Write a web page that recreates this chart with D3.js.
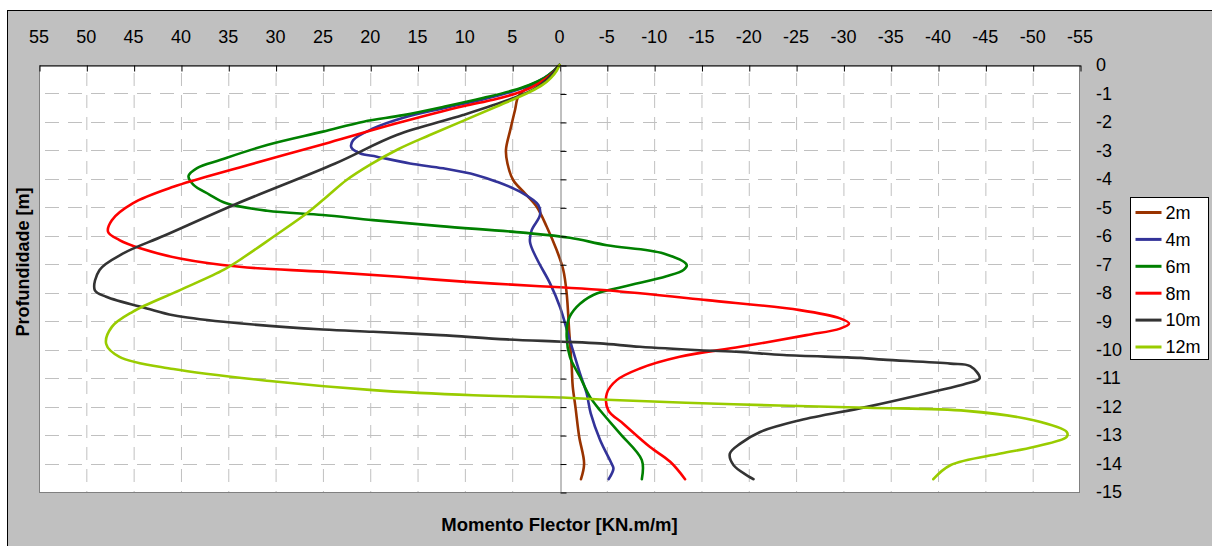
<!DOCTYPE html>
<html>
<head>
<meta charset="utf-8">
<script src="https://cdn.jsdelivr.net/npm/d3@7"></script>
<style>
  html, body { margin: 0; padding: 0; background: #fff; }
  svg { display: block; }
  text { font-family: "Liberation Sans", Arial, sans-serif; }
</style>
</head>
<body>
<svg id="chart" width="1212" height="546"></svg>
<script>
// ---- data (moment [kN.m/m], depth [m]) ----
const seriesNames = ["2m", "4m", "6m", "8m", "10m", "12m"];
const seriesColors = ["#993300", "#333399", "#008000", "#ff0000", "#333333", "#99cc00"];

const m2 = [[0,0],[0.8,-0.3],[2.2,-0.6],[3.6,-0.85],[4.36,-1.11],[4.7,-1.58],[5.2,-2.28],[5.66,-2.99],[5.5,-3.46],[4.9,-4.04],[3.65,-4.51],[2.41,-4.98],[1.35,-5.68],[0.3,-6.5],[-0.4,-7.2],[-0.75,-8.0],[-1.04,-9.43],[-1.29,-10.6],[-1.4,-11.3],[-1.68,-12.0],[-2.08,-13.06],[-2.6,-14.0],[-2.27,-14.55]];
const m4 = [[0,0],[0.6,-0.2],[1.6,-0.45],[3.2,-0.72],[5,-0.93],[8,-1.2],[12,-1.5],[16.5,-1.85],[19.7,-2.23],[21.8,-2.64],[22.0,-2.89],[21.1,-3.1],[19.3,-3.22],[15.8,-3.46],[12.3,-3.63],[8.75,-3.87],[6.64,-4.1],[4.18,-4.45],[2.24,-4.92],[2.06,-5.27],[2.94,-5.8],[3.12,-6.21],[2.41,-6.8],[1.0,-7.67],[-0.05,-8.5],[-1.1,-9.67],[-2.17,-10.84],[-2.87,-11.54],[-3.3,-12.24],[-4.3,-13.18],[-5.5,-14.0],[-5.7,-14.18],[-5.2,-14.55]];
const m6 = [[0,0],[0.6,-0.2],[1.6,-0.45],[3.2,-0.7],[5,-0.9],[8,-1.15],[12,-1.45],[16.5,-1.76],[20.7,-1.99],[25,-2.34],[30.9,-2.81],[35.8,-3.33],[38.3,-3.62],[39.2,-3.9],[38.7,-4.2],[37.0,-4.55],[35.2,-4.86],[30.9,-5.12],[25,-5.27],[19.7,-5.45],[12.6,-5.66],[3.83,-5.89],[-1.1,-6.07],[-5,-6.33],[-11,-6.62],[-13.45,-7.03],[-13.1,-7.2],[-11.3,-7.42],[-6.74,-7.79],[-3.57,-8.08],[-1.82,-8.5],[-0.93,-8.96],[-0.76,-9.55],[-1.1,-10.25],[-2.17,-10.96],[-3.22,-11.66],[-4.28,-12.13],[-6.4,-12.95],[-8.7,-13.88],[-8.7,-14.55]];
const m8 = [[0,0],[0.5,-0.2],[1.4,-0.47],[2.9,-0.78],[4.6,-1.0],[7,-1.22],[10.2,-1.45],[17.2,-2.05],[24.3,-2.72],[33.8,-3.6],[40.8,-4.28],[45.1,-4.86],[47.3,-5.45],[47.7,-5.86],[46.5,-6.15],[44.3,-6.44],[40.1,-6.8],[33.8,-7.09],[25,-7.26],[16.9,-7.44],[9.8,-7.62],[2.06,-7.77],[-0.05,-7.81],[-5,-7.91],[-15.6,-8.26],[-25.4,-8.61],[-29.65,-8.9],[-30.6,-9.08],[-29.65,-9.26],[-26.1,-9.49],[-19.1,-9.9],[-12.7,-10.25],[-8.5,-10.66],[-6.05,-11.07],[-5.0,-11.54],[-5.16,-12.13],[-6.74,-12.6],[-9.57,-13.42],[-11.7,-13.94],[-13.27,-14.55]];
const m10 = [[0,0],[0.5,-0.2],[1.3,-0.5],[2.7,-0.85],[4.9,-1.17],[10.2,-1.76],[17.2,-2.46],[23.7,-3.46],[34.3,-4.9],[41.8,-6.0],[46.1,-6.62],[48.6,-7.2],[49.1,-7.91],[47.9,-8.14],[43.6,-8.55],[40.8,-8.79],[35.5,-9.02],[25,-9.29],[19.7,-9.37],[12.6,-9.49],[5.58,-9.64],[-0.33,-9.72],[-4.28,-9.78],[-8.5,-9.9],[-14.8,-10.02],[-19.1,-10.08],[-23.7,-10.19],[-31.8,-10.29],[-34.2,-10.35],[-41.3,-10.49],[-43.4,-10.58],[-44.4,-11.01],[-43.0,-11.19],[-39.5,-11.48],[-32.5,-12.01],[-25.4,-12.48],[-21.2,-12.89],[-19.1,-13.3],[-18.0,-13.65],[-18.4,-14.06],[-20.5,-14.55]];
const m12 = [[0,0],[0.3,-0.2],[0.9,-0.45],[1.8,-0.7],[3.1,-0.94],[6.64,-1.46],[13.7,-2.46],[17.0,-2.95],[20.0,-3.5],[22.5,-4.04],[24.5,-4.6],[26.7,-5.21],[30.3,-6.05],[33.8,-6.85],[35.5,-7.2],[40.1,-7.91],[45.1,-8.67],[47.3,-9.2],[47.9,-9.8],[46.5,-10.25],[40.8,-10.68],[30.6,-11.1],[19.7,-11.42],[9.1,-11.6],[-0.33,-11.68],[-4.28,-11.75],[-18.4,-11.92],[-32.5,-12.04],[-43.0,-12.15],[-50.1,-12.48],[-53.6,-12.89],[-53.6,-13.06],[-50.1,-13.42],[-46.6,-13.65],[-41.3,-14.06],[-39.5,-14.55]];
const seriesData = [m2, m4, m6, m8, m10, m12];

const xTicks = [55, 50, 45, 40, 35, 30, 25, 20, 15, 10, 5, 0, -5, -10, -15, -20, -25, -30, -35, -40, -45, -50, -55];
const yTicks = [0, -1, -2, -3, -4, -5, -6, -7, -8, -9, -10, -11, -12, -13, -14, -15];

const xTitle = "Momento Flector [KN.m/m]";
const yTitle = "Profundidade [m]";

// ---- layout ----
const svg = d3.select("#chart");
const P = { left: 39, right: 1080, top: 65, bottom: 492 };
const x = d3.scaleLinear().domain([55, -55]).range([P.left, P.right]);
const y = d3.scaleLinear().domain([0, -15]).range([P.top, P.bottom]);

// outer chart area
svg.append("rect").attr("x", 7.5).attr("y", 10.5).attr("width", 1212).attr("height", 546)
  .attr("fill", "#c0c0c0").attr("stroke", "#000").attr("stroke-width", 1);

// plot area
svg.append("rect").attr("x", P.left).attr("y", P.top)
  .attr("width", P.right - P.left).attr("height", P.bottom - P.top)
  .attr("fill", "#fff");

// gridlines
const grid = svg.append("g");
grid.selectAll("line.v").data(xTicks.filter(d => d !== 0 && Math.abs(d) !== 55)).join("line")
  .attr("x1", d => x(d) + 0.5).attr("x2", d => x(d) + 0.5)
  .attr("y1", P.top).attr("y2", P.bottom)
  .attr("stroke", "#c0c0c0").attr("stroke-width", 1).attr("stroke-dasharray", "13,9")
  .attr("stroke-dashoffset", -8);
grid.selectAll("line.h").data(yTicks.filter(d => d !== 0 && d !== -15)).join("line")
  .attr("x1", P.left).attr("x2", P.right)
  .attr("y1", d => Math.round(y(d)) + 0.5).attr("y2", d => Math.round(y(d)) + 0.5)
  .attr("stroke", "#c0c0c0").attr("stroke-width", 1).attr("stroke-dasharray", "14,9")
  .attr("stroke-dashoffset", -6);

// plot border
svg.append("rect").attr("x", P.left + 0.5).attr("y", P.top + 0.5)
  .attr("width", P.right - P.left - 1).attr("height", P.bottom - P.top)
  .attr("fill", "none").attr("stroke", "#808080").attr("stroke-width", 1);

// series
const line = d3.line().x(d => x(d[0])).y(d => y(d[1])).curve(d3.curveCatmullRom.alpha(0.5));
const lines = svg.append("g");
seriesData.forEach((data, i) => {
  lines.append("path").datum(data).attr("d", line)
    .attr("fill", "none").attr("stroke", seriesColors[i]).attr("stroke-width", 2.6)
    .attr("stroke-linejoin", "round").attr("stroke-linecap", "round");
});

// top axis (x) with ticks pointing into the plot
const xAxis = d3.axisBottom(x).tickValues(xTicks).tickSize(6).tickSizeOuter(0).tickFormat("");
const gx = svg.append("g").attr("transform", `translate(0.5,${P.top + 0.5})`).call(xAxis);
gx.select(".domain").attr("stroke", "#000");
gx.selectAll(".tick line").attr("stroke", "#000");
svg.append("g").selectAll("text").data(xTicks).join("text")
  .attr("x", d => x(d)).attr("y", 43)
  .attr("text-anchor", "middle").attr("font-size", 18).attr("fill", "#000")
  .text(d => d);

// vertical axis at x=0 with ticks pointing right
const yAxis = d3.axisRight(y).tickValues(yTicks).tickSize(6).tickSizeOuter(0).tickFormat("");
const gy = svg.append("g").attr("transform", `translate(${Math.round(x(0)) + 0.5},0.5)`).call(yAxis);
gy.select(".domain").attr("stroke", "#808080");
gy.selectAll(".tick line").attr("stroke", "#000");
svg.append("g").selectAll("text").data(yTicks).join("text")
  .attr("x", 1096).attr("y", d => y(d)).attr("dy", "0.35em")
  .attr("text-anchor", "start").attr("font-size", 18).attr("fill", "#000")
  .text(d => d);

// axis titles
svg.append("text").attr("x", x(0)).attr("y", 531)
  .attr("text-anchor", "middle").attr("font-size", 18.5).attr("font-weight", "bold")
  .text(xTitle);
svg.append("text").attr("transform", "translate(29,262) rotate(-90)")
  .attr("text-anchor", "middle").attr("font-size", 18).attr("font-weight", "bold")
  .text(yTitle);

// legend
const lg = svg.append("g").attr("transform", "translate(1130.5,197.5)");
lg.append("rect").attr("width", 78).attr("height", 162).attr("fill", "#fff").attr("stroke", "#000");
seriesNames.forEach((name, i) => {
  const cy = 15 + i * 26.9;
  lg.append("line").attr("x1", 5).attr("x2", 31).attr("y1", cy).attr("y2", cy)
    .attr("stroke", seriesColors[i]).attr("stroke-width", 3);
  lg.append("text").attr("x", 35).attr("y", cy).attr("dy", "0.35em")
    .attr("font-size", 18).text(name);
});
</script>
</body>
</html>
